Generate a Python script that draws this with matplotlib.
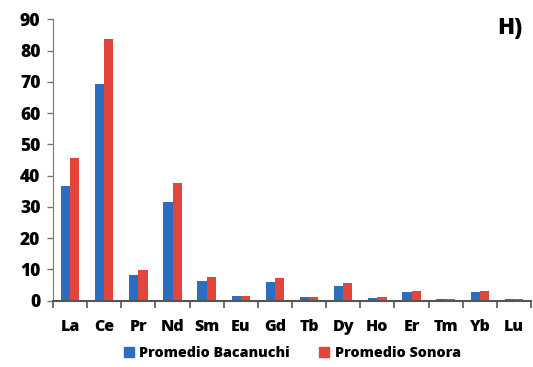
import numpy as np
import matplotlib
matplotlib.use("Agg")
import matplotlib.pyplot as plt
from matplotlib.patches import Patch

# rare earth elements and the two averages
elements = ["La", "Ce", "Pr", "Nd", "Sm", "Eu", "Gd", "Tb", "Dy", "Ho", "Er", "Tm", "Yb", "Lu"]
bacanuchi = [36.7, 69.2, 8.2, 31.7, 6.3, 1.5, 6.0, 1.0, 4.6, 0.9, 2.6, 0.4, 2.6, 0.4]
sonora = [45.5, 83.8, 9.8, 37.5, 7.5, 1.6, 7.3, 1.2, 5.5, 1.1, 3.0, 0.4, 3.2, 0.4]
yticks = [0, 10, 20, 30, 40, 50, 60, 70, 80, 90]

blue = "#2c6dc0"
red = "#e2453a"
font = "Open Sans"

fig = plt.figure(figsize=(5.33, 3.67), dpi=100)
ax = fig.add_axes([0.0994, 0.181, 0.897, 0.766])

x = np.arange(len(elements))
w = 0.27
ax.bar(x - w / 2, bacanuchi, w, color=blue)
ax.bar(x + w / 2, sonora, w, color=red)

ax.set_xlim(-0.5, len(elements) - 0.5)
ax.set_ylim(0, 90)
ax.set_yticks(yticks)
ax.set_yticklabels([str(v) for v in yticks], fontfamily=font, fontweight="heavy", fontsize=12.5)

# category labels centred, tick marks on the boundaries
ax.set_xticks(np.arange(len(elements) + 1) - 0.5)
ax.set_xticklabels([])
ax.set_xticks(x, minor=True)
ax.set_xticklabels(elements, minor=True, fontfamily=font, fontweight="heavy", fontsize=11.5)
ax.tick_params(axis="x", which="minor", length=0, pad=13)
ax.tick_params(axis="x", which="major", length=5, width=1.2, color="#555555", direction="out")
ax.tick_params(axis="y", length=4, width=1, color="#777777", pad=5)

for s in ["top", "right"]:
    ax.spines[s].set_visible(False)
ax.spines["left"].set_color("#777777")
ax.spines["bottom"].set_color("#555555")
ax.spines["bottom"].set_linewidth(1.5)

ax.text(0.981, 0.969, "H)", transform=ax.transAxes, ha="right", va="center",
        fontfamily=font, fontweight="heavy", fontsize=16)

handles = [Patch(color=blue, label="Promedio Bacanuchi"), Patch(color=red, label="Promedio Sonora")]
fig.legend(handles=handles, loc="center", bbox_to_anchor=(0.548, 0.037), ncol=2, frameon=False,
           prop={"family": font, "weight": "heavy", "size": 10.3}, handlelength=0.7, handleheight=0.7,
           handletextpad=0.4, columnspacing=2.0)

fig.savefig("out.png", dpi=100)
